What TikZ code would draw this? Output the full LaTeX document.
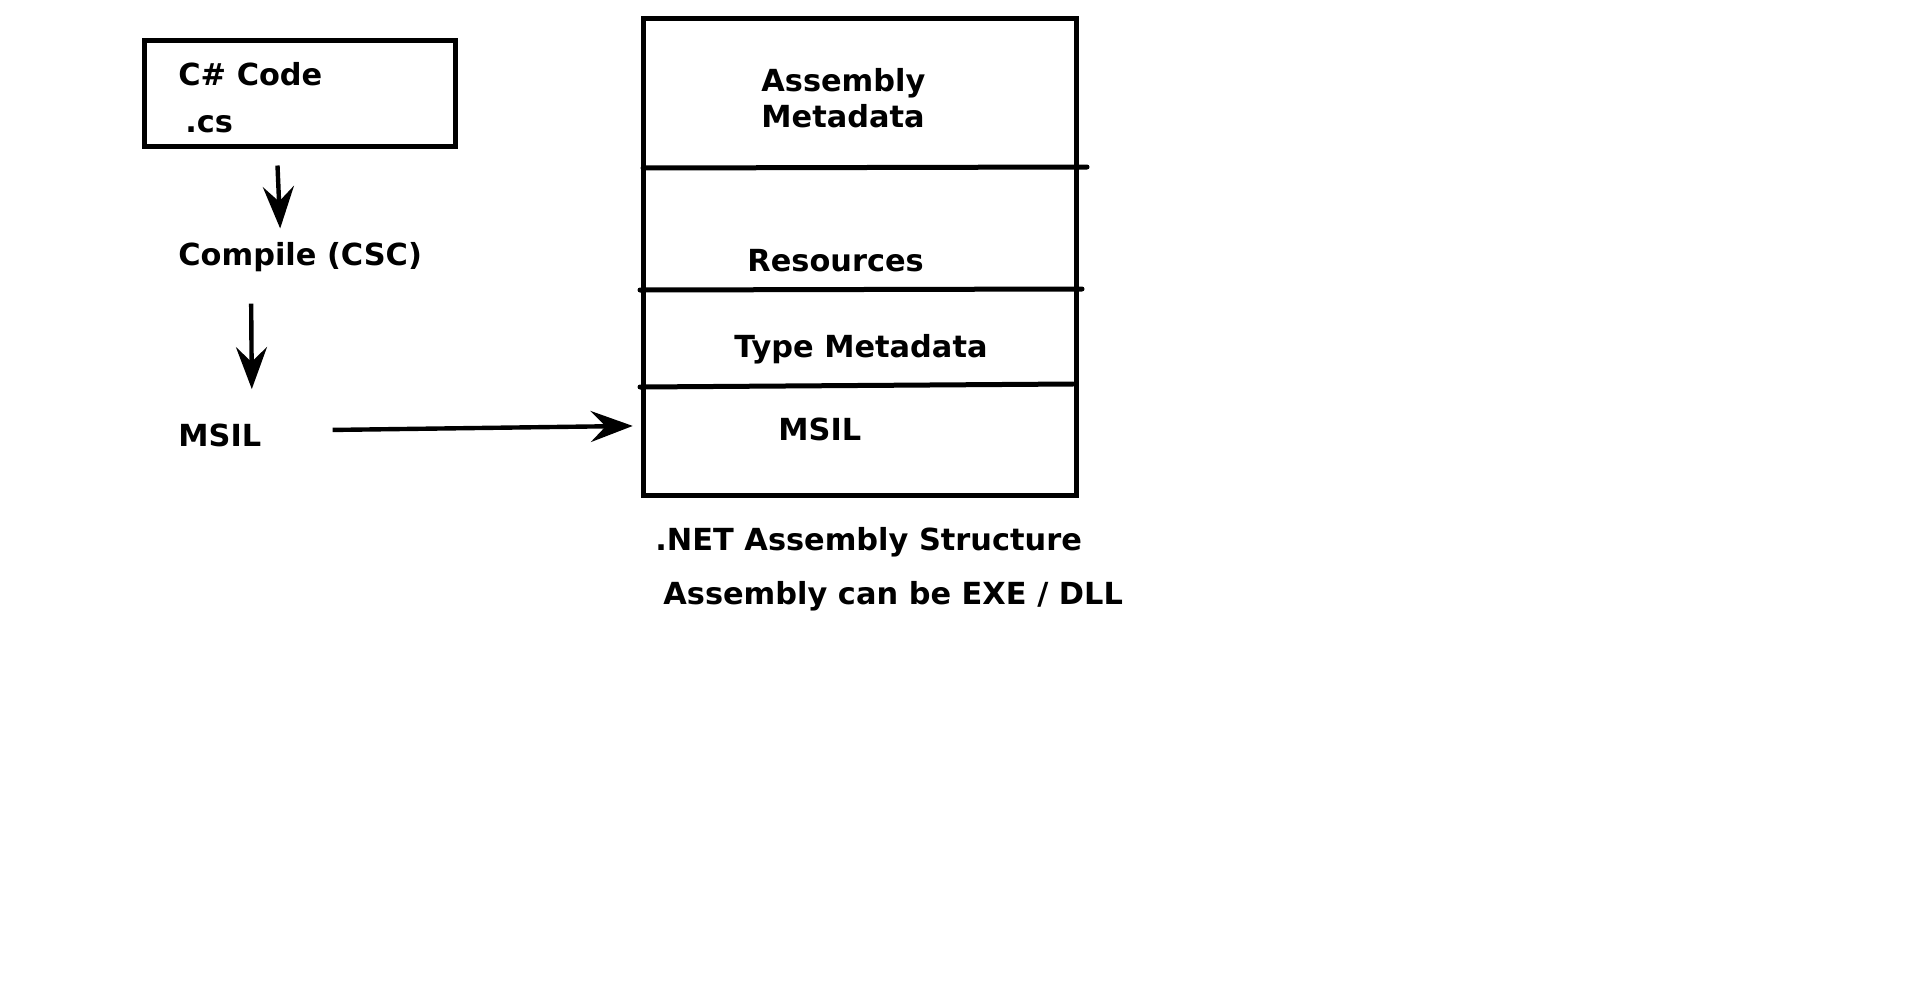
\documentclass[tikz,border=0pt]{standalone}
\usepackage{fontspec}
\setmainfont{DejaVu Sans}
\usepackage{tikz}
\usetikzlibrary{arrows.meta}

\begin{document}
\begin{tikzpicture}[x=5pt, y=-5pt,
        lbl/.style={anchor=base west, inner sep=0pt, font=\fontsize{15.2}{18}\selectfont\bfseries},
        arr/.style={-{Stealth[length=21pt, width=15.5pt, inset=7.5pt]}, line width=2.2pt},
        divider/.style={line width=2.5pt, line cap=round}]
            % page
            \useasboundingbox (0,0) rectangle (192,99.1);
            % source box
            \node[draw, line width=2.5pt, minimum width=155.5pt, minimum height=53pt] (cscode) at (29.95,9.3) {};
            \node[lbl] (code) at (17.8,8.5) {C\# Code};
            \node[lbl] (ext) at (18.5,13.2) {.cs};
            % compile steps
            \node[lbl] (compile) at (17.8,26.5) {Compile (CSC)};
            \node[lbl] (msil) at (17.8,44.6) {MSIL};
            % assembly box
            \node[draw, line width=2.5pt, minimum width=216.75pt, minimum height=238.5pt] (asm) at (86.0,25.65) {};
            \draw[divider] (64.3,16.8) -- (108.7,16.7);
            \draw[divider] (64.0,29.0) -- (108.2,28.9);
            \draw[divider] (64.0,38.7) -- (107.3,38.4);
            \node[lbl] (asmhead) at (76.1,9.1) {Assembly};
            \node[lbl] (asmmeta) at (76.1,12.7) {Metadata};
            \node[lbl] (res) at (74.7,27.1) {Resources};
            \node[lbl] (typemeta) at (73.4,35.7) {Type Metadata};
            \node[lbl] (msilsec) at (77.8,44.0) {MSIL};
            % captions
            \node[lbl] (title) at (65.5,55.0) {.NET Assembly Structure};
            \node[lbl] (note) at (66.3,60.4) {Assembly can be EXE / DLL};
            % arrows
            \draw[arr] ([xshift=-11pt,yshift=-8.5pt]cscode.south) -- ([xshift=-10pt,yshift=6.5pt]compile.north);
            \draw[arr] ([xshift=-24.5pt,yshift=-16pt]compile.south) -- ([xshift=16pt,yshift=17pt]msil.north);
            \draw[arr] ([xshift=35.5pt,yshift=2.5pt]msil.east) -- ([xshift=-4pt,yshift=1.5pt]asm.west |- msilsec.west);
\end{tikzpicture}
\end{document}
